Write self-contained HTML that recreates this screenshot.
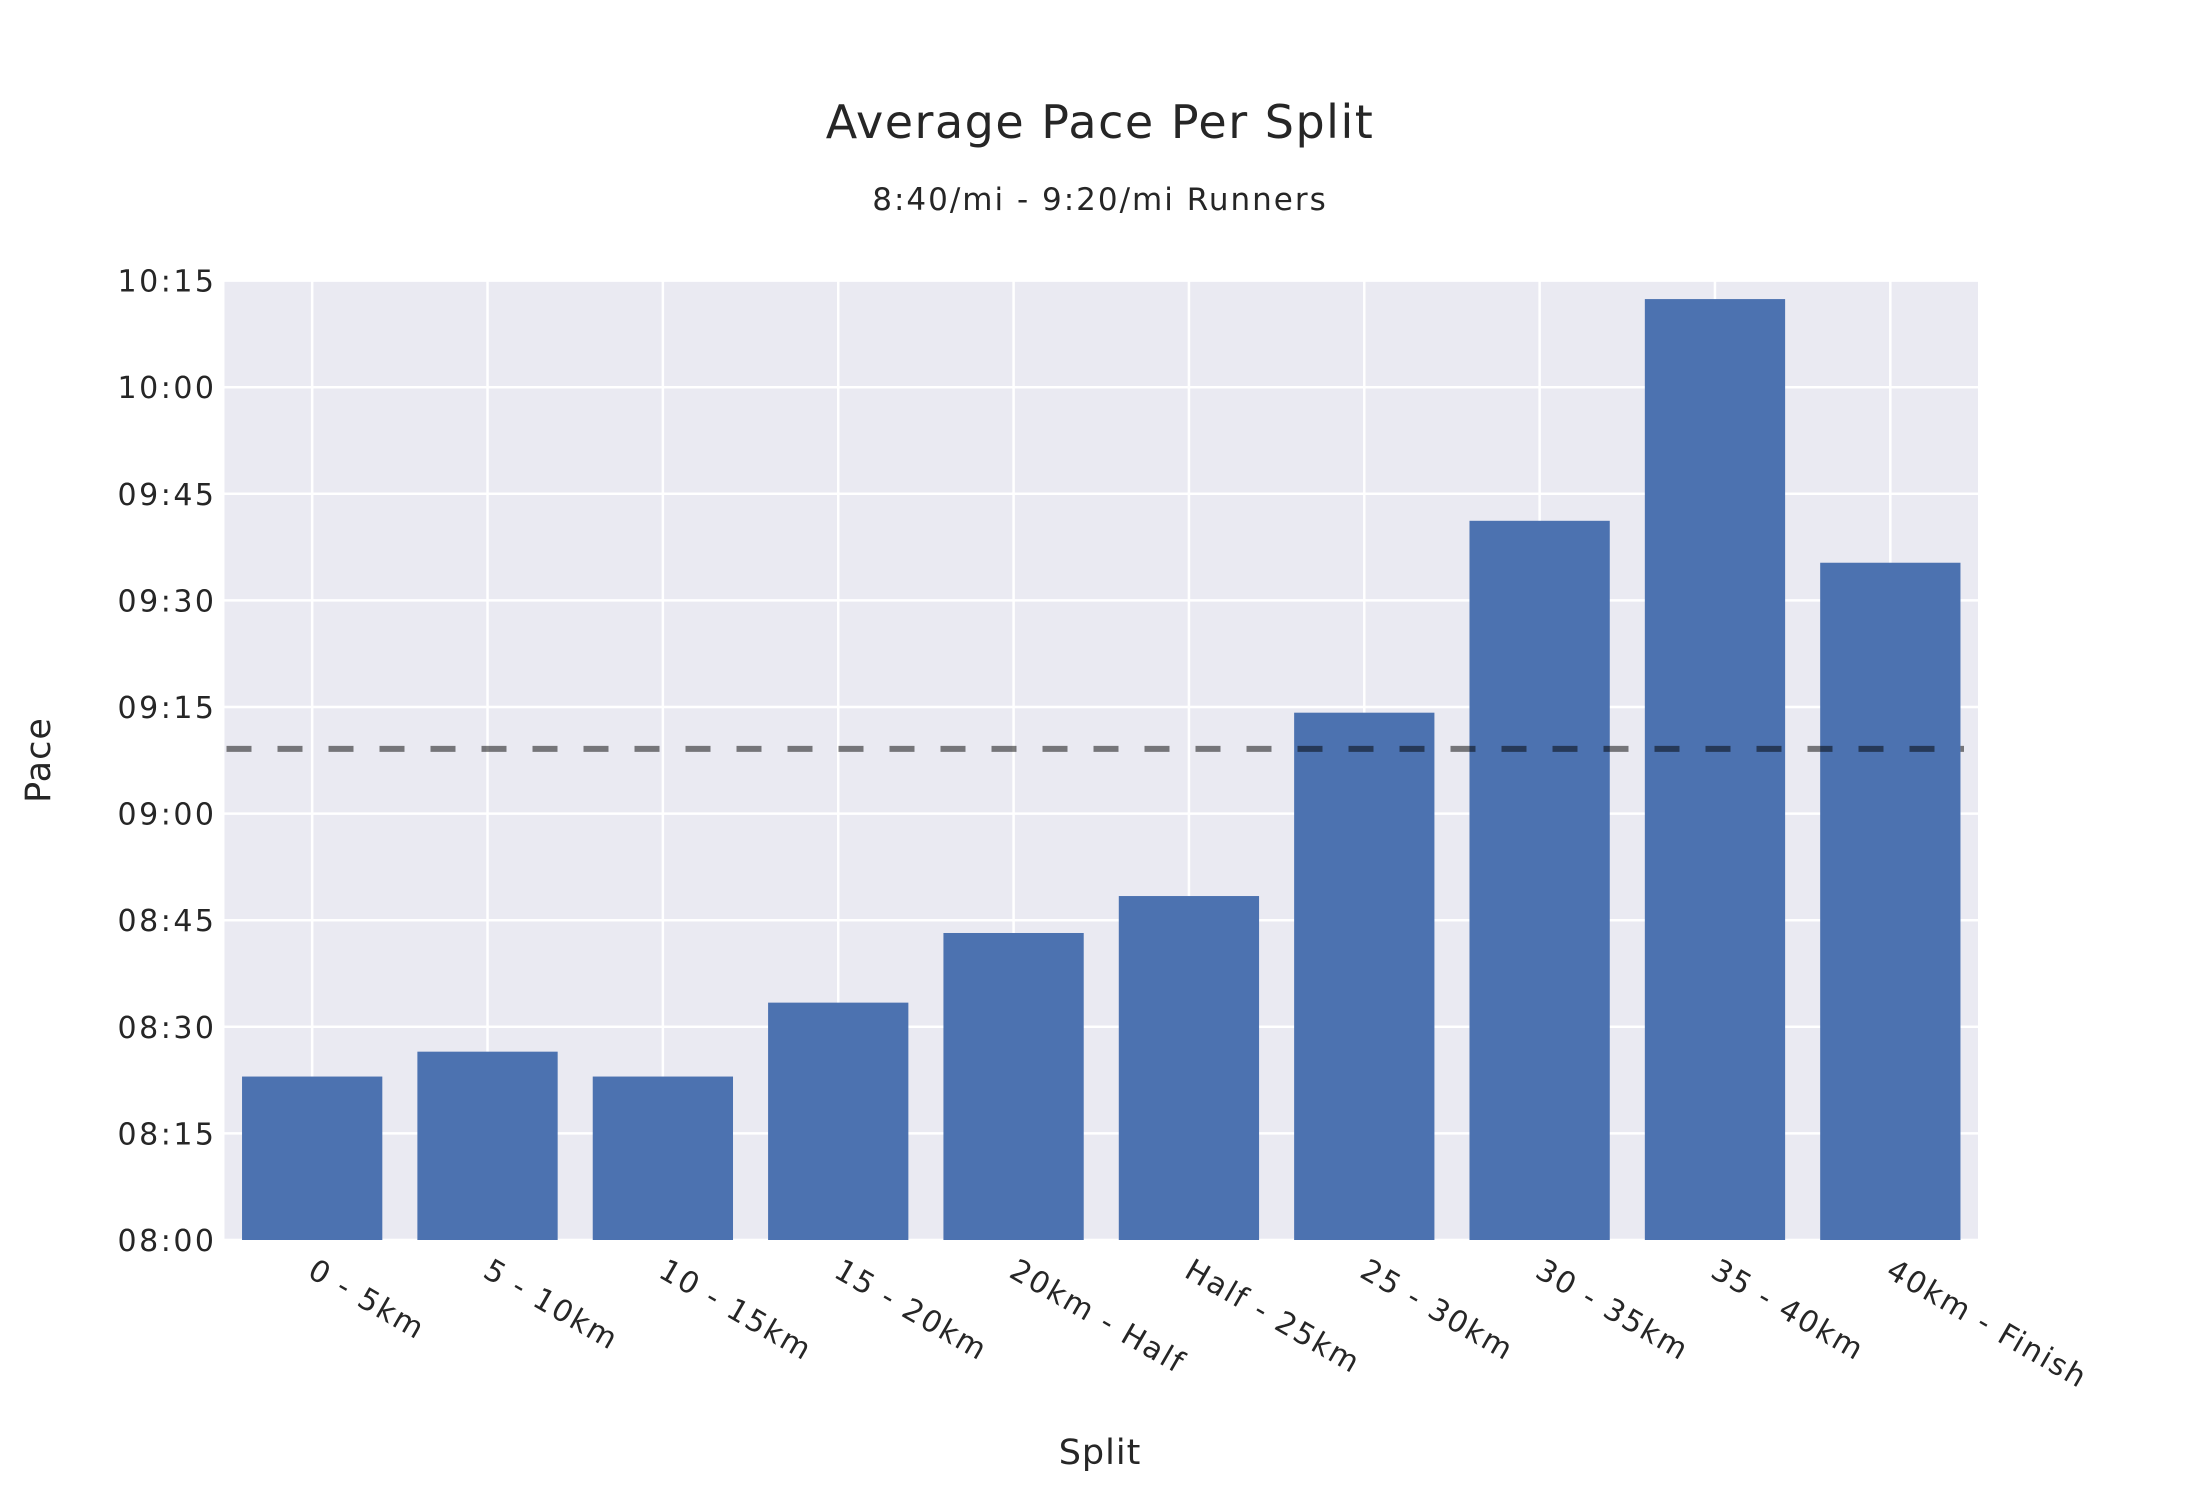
<!DOCTYPE html>
<html><head><meta charset="utf-8"><style>
html,body{margin:0;padding:0;background:#fff;}
svg{display:block;font-family:"DejaVu Sans","Liberation Sans",sans-serif;}
</style></head><body>
<svg id="chart" width="2200" height="1500" viewBox="0 0 2200 1500">
<text x="1100" y="138" text-anchor="middle" font-size="46" letter-spacing="1.5" fill="#262626">Average Pace Per Split</text>
<text x="1100" y="210" text-anchor="middle" font-size="31" letter-spacing="2" fill="#262626">8:40/mi - 9:20/mi Runners</text>
<rect x="224.5" y="280.6" width="1753.5" height="959.4" fill="#eaeaf2"/>
<g id="grid"></g><g id="bars"></g><g id="refline"></g><g id="yticks"></g><g id="xticks"></g>
<text x="1100" y="1464" text-anchor="middle" font-size="35" letter-spacing="1" fill="#262626">Split</text>
<text x="0" y="0" transform="translate(50,760) rotate(-90)" text-anchor="middle" font-size="35" letter-spacing="1" fill="#262626">Pace</text>
</svg>
<script>
const categories = ["0 - 5km","5 - 10km","10 - 15km","15 - 20km","20km - Half","Half - 25km","25 - 30km","30 - 35km","35 - 40km","40km - Finish"];
const paceSeconds = [503, 506.5, 503, 513.4, 523.2, 528.4, 554.2, 581.2, 612.4, 575.3];
const targetPace = [549.1];
const yTickValues = [480,495,510,525,540,555,570,585,600,615];
const yTickLabels = ["08:00","08:15","08:30","08:45","09:00","09:15","09:30","09:45","10:00","10:15"];

const NS="http://www.w3.org/2000/svg";
const L=224.5,R=1978,T=280.6,B=1240,yMin=480,yMax=615;
const y=v=>B-(v-yMin)/(yMax-yMin)*(B-T);
const band=(R-L)/categories.length;
const x=i=>L+band*(i+0.5);
function mk(tag,attrs,parent){const e=document.createElementNS(NS,tag);for(const k in attrs)e.setAttribute(k,attrs[k]);document.getElementById(parent).appendChild(e);return e;}

yTickValues.forEach((v,i)=>{
  const g=mk('line',{x1:L,x2:R,y1:y(v),y2:y(v),stroke:'#fff','stroke-width':2.5},'grid');
  
  
  const t=mk('text',{x:L-8,y:y(v)+11,'text-anchor':'end','font-size':30,'letter-spacing':2.5,fill:'#262626'},'yticks');
  t.textContent=yTickLabels[i];
  
  
});
categories.forEach((c,i)=>{
  const g=mk('line',{x1:x(i),x2:x(i),y1:T,y2:B,stroke:'#fff','stroke-width':2.5},'grid');
  
  
  const bw=band*0.8;
  const b=mk('rect',{x:x(i)-bw/2,y:y(paceSeconds[i]),width:bw,height:B-y(paceSeconds[i]),fill:'#4c72b0'},'bars');
  
  
  const t=mk('text',{x:0,y:0,transform:`translate(${x(i)-6},${B+36}) rotate(30)`,'font-size':30,'letter-spacing':2,fill:'#262626'},'xticks');
  t.textContent=c;
  
  
});
const rl=mk('line',{x1:L+2,x2:R-14,y1:y(targetPace[0]),y2:y(targetPace[0]),stroke:'rgba(0,0,0,0.5)','stroke-width':6,'stroke-dasharray':'25 26'},'refline');


</script>
</body></html>
